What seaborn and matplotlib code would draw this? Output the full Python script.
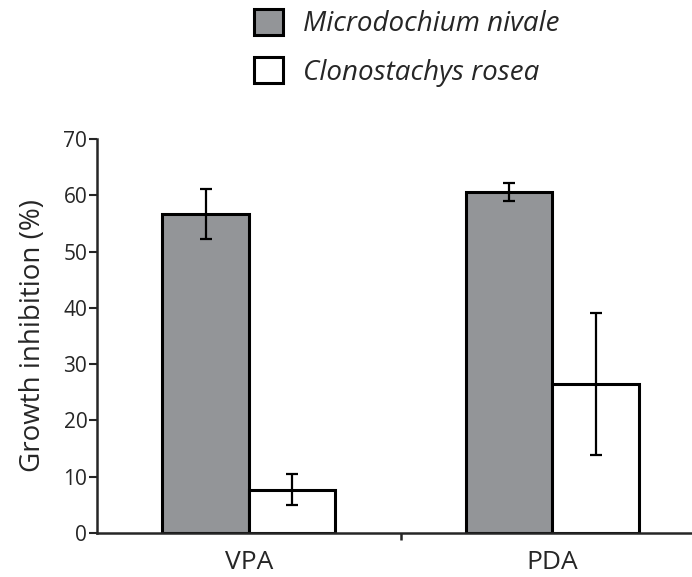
import matplotlib
matplotlib.use("Agg")
import matplotlib.pyplot as plt
import seaborn as sns
import pandas as pd
from matplotlib.ticker import FixedLocator

media = ["VPA", "PDA"]
species = ["Microdochium nivale", "Clonostachys rosea"]
mn_mean = [56.7, 60.5]
mn_err = [4.5, 1.6]
cr_mean = [7.7, 26.5]
cr_err = [2.8, 12.6]

df = pd.DataFrame({
    "medium": media * 2,
    "species": [species[0]] * 2 + [species[1]] * 2,
    "value": mn_mean + cr_mean,
})

sns.set_style("ticks")
plt.rcParams["font.family"] = ["Open Sans", "DejaVu Sans"]

fig = plt.figure(figsize=(6.92, 5.77), dpi=100)
ax = fig.add_axes([97 / 692, 1 - 533 / 577, 1 - 97 / 692, (533 - 139) / 577])

sns.barplot(data=df, x="medium", y="value", hue="species", hue_order=species,
            palette={species[0]: "#939598", species[1]: "white"},
            edgecolor="black", linewidth=2.2, width=0.57, errorbar=None,
            saturation=1, ax=ax)

# error bars at the bar centres, in the order seaborn drew them
bars = [p for p in ax.patches if p.get_height() > 0][:4]
errs = mn_err + cr_err
for bar, e in zip(bars, errs):
    ax.errorbar(bar.get_x() + bar.get_width() / 2, bar.get_height(), yerr=e,
                fmt="none", ecolor="black", elinewidth=1.6, capsize=4, capthick=1.6)

ax.set_ylim(0, 70)
ax.set_xlim(-0.5, 1.46)
ax.set_yticks(range(0, 71, 10))
ax.tick_params(axis="y", labelsize=15, width=1.5, length=6, pad=1)
ax.tick_params(axis="x", which="major", length=0, labelsize=19, pad=12)
ax.xaxis.set_minor_locator(FixedLocator([0.5]))
ax.tick_params(axis="x", which="minor", length=5, width=1.8)
ax.set_xlabel("")
ax.set_ylabel("Growth inhibition (%)", fontsize=20, labelpad=12)
for s in ["left", "bottom"]:
    ax.spines[s].set_linewidth(1.8)
for s in ["top", "right"]:
    ax.spines[s].set_visible(False)

handles, labels = ax.get_legend_handles_labels()
ax.legend_.remove()
fig.legend(handles, labels, loc="upper left", bbox_to_anchor=(254 / 692, 1 - 9 / 577),
           frameon=False, borderpad=0, borderaxespad=0, handlelength=1.05, handleheight=1.05,
           handletextpad=0.7, labelspacing=0.68,
           prop={"style": "italic", "size": 20, "family": "Open Sans"})

fig.savefig("out.png", dpi=100)
